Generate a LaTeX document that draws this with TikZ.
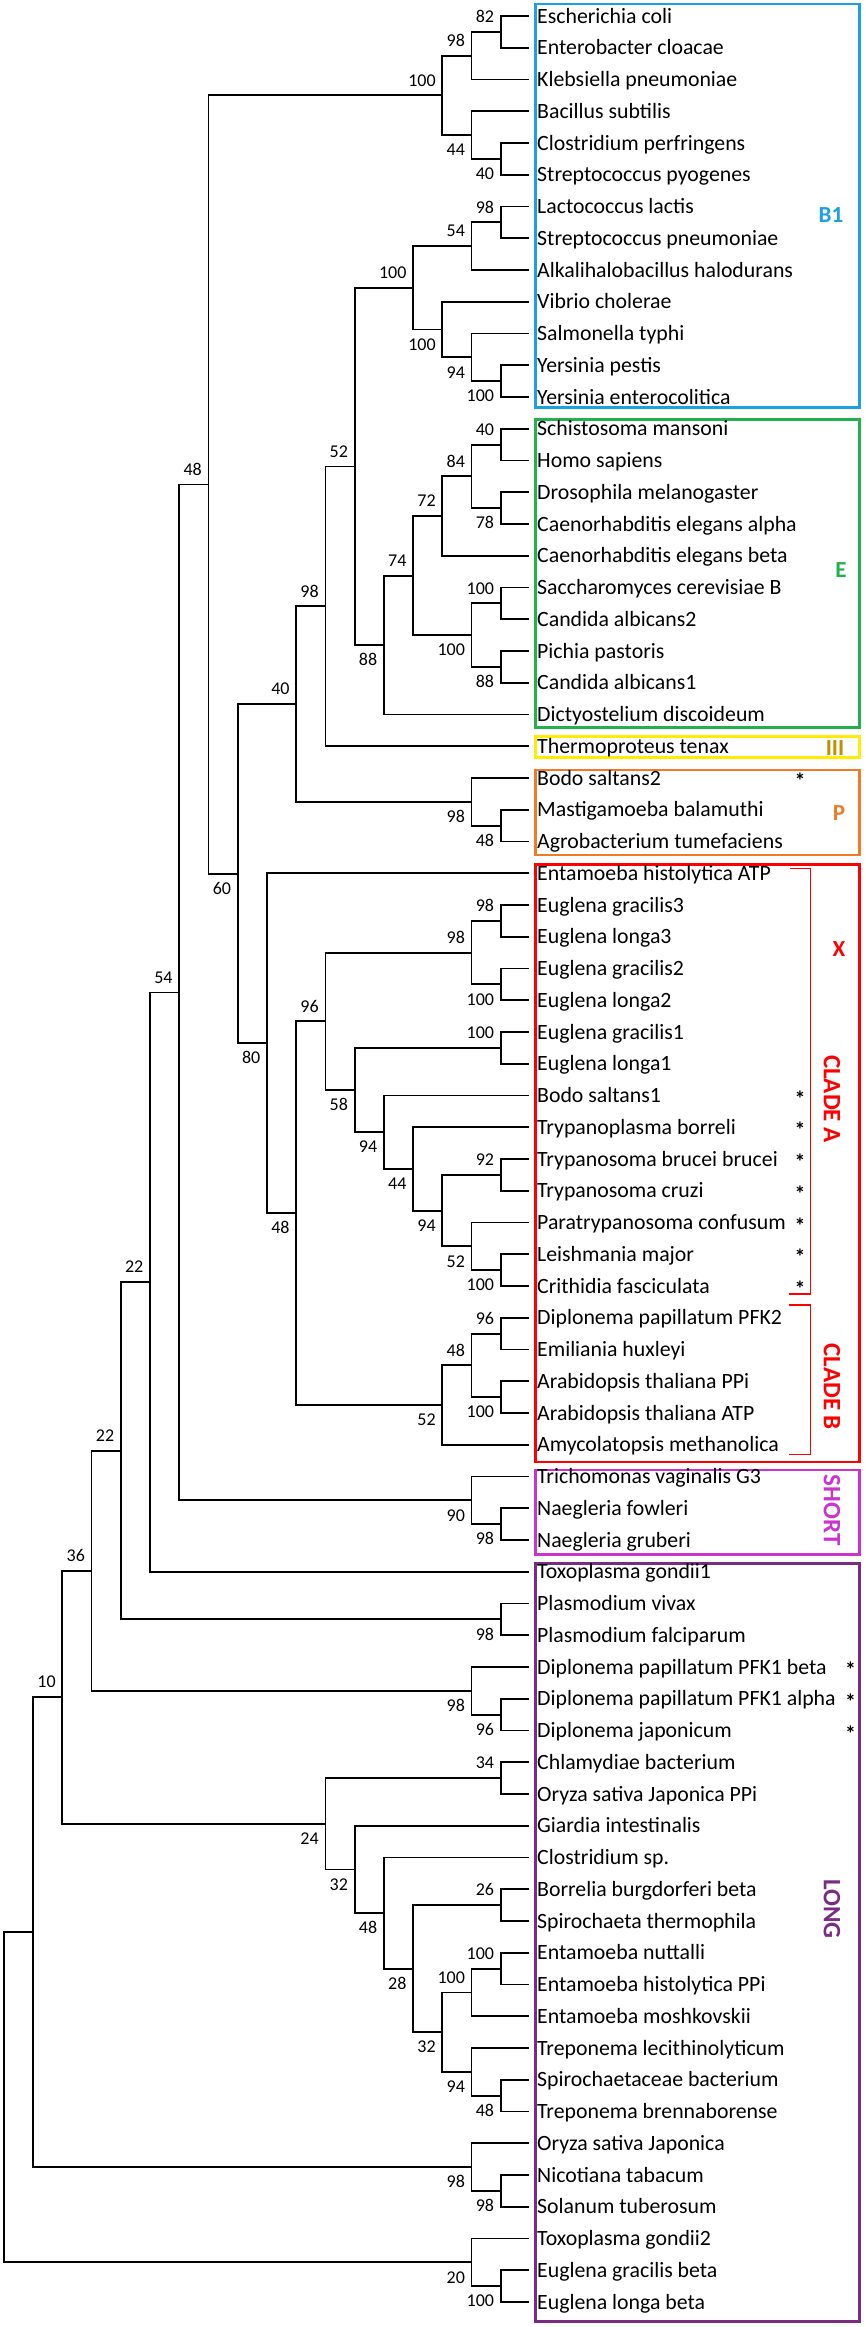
\documentclass[tikz,border=0pt]{standalone}
\usepackage{fontspec}
\setmainfont{Carlito}
\usetikzlibrary{calc}
\definecolor{cB}{RGB}{27,161,226}
\definecolor{cE}{RGB}{34,177,76}
\definecolor{cY}{RGB}{255,236,0}
\definecolor{cYt}{RGB}{191,144,0}
\definecolor{cP}{RGB}{240,122,38}
\definecolor{cR}{RGB}{255,0,0}
\definecolor{cS}{RGB}{204,51,204}
\definecolor{cL}{RGB}{122,44,132}
\newcommand{\mkleaf}[2]{%
  \coordinate (l#1) at (528.5,{16+(#1-1)*31.75});
  \node[leaflab] (t#1) at (537,{23+(#1-1)*31.75}) {#2};}
\newcommand{\mknode}[6]{%
  \coordinate (m#1) at ($(#3)!0.5!(#4)$);
  \coordinate (x#1) at ({3.9+29.23*#2},0);
  \coordinate (#1) at (m#1 -| x#1);
  \draw[branch] (#3) -- (#3 -| #1) -- (#4 -| #1) -- (#4);
  \node[sup] (s#1) at ($(#1)+(-6.5,#6)$) {#5};}
\newcommand{\mknodeN}[4]{%
  \coordinate (m#1) at ($(#3)!0.5!(#4)$);
  \coordinate (x#1) at ({3.9+29.23*#2},0);
  \coordinate (#1) at (m#1 -| x#1);
  \draw[branch] (#3) -- (#3 -| #1) -- (#4 -| #1) -- (#4);}
\newcommand{\mkast}[3]{%
  \node[ast] (a#1) at (#2,{26.5+(#1-1)*31.75}) {*};}
\begin{document}
\begin{tikzpicture}[x=1pt,y=-1pt,
  branch/.style={line width=1.8pt, black},
  leaflab/.style={anchor=base west, inner sep=0, font=\fontsize{21.8}{24}\selectfont},
  sup/.style={anchor=base east, inner sep=0, font=\fontsize{18}{20}\selectfont},
  grp/.style={inner sep=0, font=\bfseries\fontsize{23}{25}\selectfont},
  grpr/.style={inner sep=0, rotate=-90, font=\bfseries\fontsize{25}{27}\selectfont},
  gbox/.style={draw, line width=2.2pt, inner sep=0, outer sep=0, anchor=north west, minimum width=324pt},
  ast/.style={anchor=base, inner sep=0, font=\bfseries\fontsize{21.8}{24}\selectfont},
  brk/.style={line width=1.2pt, cR}]
\fill[white] (0,0) rectangle (865,2327);
\useasboundingbox (0,0) rectangle (865,2327);

% group boxes
\node[gbox, draw=cB, minimum height=403.5pt] (bxB1) at (535.5,4) {};
\node[gbox, draw=cE, minimum height=308pt] (bxE) at (535.5,419.5) {};
\node[gbox, draw=cY, minimum height=21pt] (bxIII) at (535.5,736.5) {};
\node[gbox, draw=cP, minimum height=85pt] (bxP) at (535.5,770) {};
\node[gbox, draw=cR, minimum height=597.5pt] (bxC) at (535.5,864.5) {};
\node[gbox, draw=cS, minimum height=84.5pt] (bxS) at (535.5,1470) {};
\node[gbox, draw=cL, minimum height=758pt] (bxL) at (535.5,1563.5) {};

% group labels
\node[grp, text=cB] (gB1) at (831,215) {B1};
\node[grp, text=cE] (gE) at (841,570) {E};
\node[grp, text=cYt] (gIII) at (835,748) {III};
\node[grp, text=cP] (gP) at (839,812.7) {P};
\node[grp, text=cR] (gX) at (839,949) {X};
\node[grpr, text=cR] (gCA) at (832,1099) {CLADE A};
\node[grpr, text=cR] (gCB) at (832,1386.7) {CLADE B};
\node[grpr, text=cS] (gS) at (832,1510) {SHORT};
\node[grpr, text=cL] (gL) at (832,1909) {LONG};

% brackets
\draw[brk] (790,868.5) -- (810.5,868.5) -- (810.5,1294) -- (788.5,1294);
\draw[brk] (788.5,1305) -- (810.5,1305) -- (810.5,1454.5) -- (788.5,1454.5);

% leaves
\mkleaf{1}{Escherichia coli}
\mkleaf{2}{Enterobacter cloacae}
\mkleaf{3}{Klebsiella pneumoniae}
\mkleaf{4}{Bacillus subtilis}
\mkleaf{5}{Clostridium perfringens}
\mkleaf{6}{Streptococcus pyogenes}
\mkleaf{7}{Lactococcus lactis}
\mkleaf{8}{Streptococcus pneumoniae}
\mkleaf{9}{Alkalihalobacillus halodurans}
\mkleaf{10}{Vibrio cholerae}
\mkleaf{11}{Salmonella typhi}
\mkleaf{12}{Yersinia pestis}
\mkleaf{13}{Yersinia enterocolitica}
\mkleaf{14}{Schistosoma mansoni}
\mkleaf{15}{Homo sapiens}
\mkleaf{16}{Drosophila melanogaster}
\mkleaf{17}{Caenorhabditis elegans alpha}
\mkleaf{18}{Caenorhabditis elegans beta}
\mkleaf{19}{Saccharomyces cerevisiae B}
\mkleaf{20}{Candida albicans2}
\mkleaf{21}{Pichia pastoris}
\mkleaf{22}{Candida albicans1}
\mkleaf{23}{Dictyostelium discoideum}
\mkleaf{24}{Thermoproteus tenax}
\mkleaf{25}{Bodo saltans2}
\mkleaf{26}{Mastigamoeba balamuthi}
\mkleaf{27}{Agrobacterium tumefaciens}
\mkleaf{28}{Entamoeba histolytica ATP}
\mkleaf{29}{Euglena gracilis3}
\mkleaf{30}{Euglena longa3}
\mkleaf{31}{Euglena gracilis2}
\mkleaf{32}{Euglena longa2}
\mkleaf{33}{Euglena gracilis1}
\mkleaf{34}{Euglena longa1}
\mkleaf{35}{Bodo saltans1}
\mkleaf{36}{Trypanoplasma borreli}
\mkleaf{37}{Trypanosoma brucei brucei}
\mkleaf{38}{Trypanosoma cruzi}
\mkleaf{39}{Paratrypanosoma confusum}
\mkleaf{40}{Leishmania major}
\mkleaf{41}{Crithidia fasciculata}
\mkleaf{42}{Diplonema papillatum PFK2}
\mkleaf{43}{Emiliania huxleyi}
\mkleaf{44}{Arabidopsis thaliana PPi}
\mkleaf{45}{Arabidopsis thaliana ATP}
\mkleaf{46}{Amycolatopsis methanolica}
\mkleaf{47}{Trichomonas vaginalis G3}
\mkleaf{48}{Naegleria fowleri}
\mkleaf{49}{Naegleria gruberi}
\mkleaf{50}{Toxoplasma gondii1}
\mkleaf{51}{Plasmodium vivax}
\mkleaf{52}{Plasmodium falciparum}
\mkleaf{53}{Diplonema papillatum PFK1 beta}
\mkleaf{54}{Diplonema papillatum PFK1 alpha}
\mkleaf{55}{Diplonema japonicum}
\mkleaf{56}{Chlamydiae bacterium}
\mkleaf{57}{Oryza sativa Japonica PPi}
\mkleaf{58}{Giardia intestinalis}
\mkleaf{59}{Clostridium sp.}
\mkleaf{60}{Borrelia burgdorferi beta}
\mkleaf{61}{Spirochaeta thermophila}
\mkleaf{62}{Entamoeba nuttalli}
\mkleaf{63}{Entamoeba histolytica PPi}
\mkleaf{64}{Entamoeba moshkovskii}
\mkleaf{65}{Treponema lecithinolyticum}
\mkleaf{66}{Spirochaetaceae bacterium}
\mkleaf{67}{Treponema brennaborense}
\mkleaf{68}{Oryza sativa Japonica}
\mkleaf{69}{Nicotiana tabacum}
\mkleaf{70}{Solanum tuberosum}
\mkleaf{71}{Toxoplasma gondii2}
\mkleaf{72}{Euglena gracilis beta}
\mkleaf{73}{Euglena longa beta}

% asterisks
\mkast{25}{800}{}
\mkast{35}{800}{}
\mkast{36}{800}{}
\mkast{37}{800}{}
\mkast{38}{800}{}
\mkast{39}{800}{}
\mkast{40}{800}{}
\mkast{41}{800}{}
\mkast{53}{850.5}{}
\mkast{54}{850.5}{}
\mkast{55}{850.5}{}

% internal nodes (name, level, child1, child2, support, label offset)
\mknode{na}{17}{l1}{l2}{82}{-9.3}
\mknode{nb}{16}{na}{l3}{98}{-9.3}
\mknode{nd}{17}{l5}{l6}{40}{20.7}
\mknode{nc}{16}{l4}{nd}{44}{20.7}
\mknode{ne}{15}{nb}{nc}{100}{-9.3}
\mknode{nj}{17}{l7}{l8}{98}{-9.3}
\mknode{nh}{16}{nj}{l9}{54}{-9.3}
\mknode{nl}{17}{l12}{l13}{100}{20.7}
\mknode{nk}{16}{l11}{nl}{94}{20.7}
\mknode{ni}{15}{l10}{nk}{100}{20.7}
\mknode{nf}{14}{nh}{ni}{100}{-9.3}
\mknode{nq}{17}{l14}{l15}{40}{-9.3}
\mknode{nr}{17}{l16}{l17}{78}{20.7}
\mknode{np}{16}{nq}{nr}{84}{-9.3}
\mknode{nn}{15}{np}{l18}{72}{-9.3}
\mknode{ns}{17}{l19}{l20}{100}{-9.3}
\mknode{nt}{17}{l21}{l22}{88}{20.7}
\mknode{no}{16}{ns}{nt}{100}{20.7}
\mknode{nm}{14}{nn}{no}{74}{-9.3}
\mknode{ng}{13}{nm}{l23}{88}{20.7}
\mknode{nfg}{12}{nf}{ng}{52}{-9.3}
\mknode{nth}{11}{nfg}{l24}{98}{-9.3}
\mknode{nu}{17}{l26}{l27}{48}{20.7}
\mknode{nP}{16}{l25}{nu}{98}{20.7}
\mknode{nfp}{10}{nth}{nP}{40}{-9.3}
\mknode{neg3}{17}{l29}{l30}{98}{-9.3}
\mknode{neg2}{17}{l31}{l32}{100}{20.7}
\mknode{neu}{16}{neg3}{neg2}{98}{-9.3}
\mknode{neg1}{17}{l33}{l34}{100}{-9.3}
\mknode{ntbc}{17}{l37}{l38}{92}{-9.3}
\mknode{nlc}{17}{l40}{l41}{100}{20.7}
\mknode{npl}{16}{l39}{nlc}{52}{20.7}
\mknode{ntry}{15}{ntbc}{npl}{94}{20.7}
\mknode{ntpl}{14}{l36}{ntry}{44}{20.7}
\mknode{nkin}{13}{l35}{ntpl}{94}{20.7}
\mknode{nrest}{12}{neg1}{nkin}{58}{20.7}
\mknode{nca}{11}{neu}{nrest}{96}{-9.3}
\mknode{ndp}{17}{l42}{l43}{96}{-9.3}
\mknode{nar}{17}{l44}{l45}{100}{20.7}
\mknode{nbb}{16}{ndp}{nar}{48}{-9.3}
\mknode{ncb}{15}{nbb}{l46}{52}{20.7}
\mknode{nab}{10}{nca}{ncb}{48}{20.7}
\mknode{nx}{9}{l28}{nab}{80}{20.7}
\mknode{nsix}{8}{nfp}{nx}{60}{20.7}
\mknode{nsev}{7}{ne}{nsix}{48}{-9.3}
\mknode{nng}{17}{l48}{l49}{98}{20.7}
\mknode{nsh}{16}{l47}{nng}{90}{20.7}
\mknode{nfsf}{6}{nsev}{nsh}{54}{-9.3}
\mknode{ntg}{5}{nfsf}{l50}{22}{-9.3}
\mknode{npf}{17}{l51}{l52}{98}{20.7}
\mknode{npm}{4}{ntg}{npf}{22}{-9.3}
\mknode{ndj}{17}{l54}{l55}{96}{20.7}
\mknode{ndip}{16}{l53}{ndj}{98}{20.7}
\mknode{ntsx}{3}{npm}{ndip}{36}{-9.3}
\mknode{nco}{17}{l56}{l57}{34}{-9.3}
\mknode{nbs}{17}{l60}{l61}{26}{-9.3}
\mknode{nen}{17}{l62}{l63}{100}{-9.3}
\mknode{nent}{16}{nen}{l64}{100}{-9.3}
\mknode{ntb}{17}{l66}{l67}{48}{20.7}
\mknode{ntrep}{16}{l65}{ntb}{94}{20.7}
\mknode{nspi}{15}{nent}{ntrep}{32}{20.7}
\mknode{ntwe}{14}{nbs}{nspi}{28}{20.7}
\mknode{nclo}{13}{l59}{ntwe}{48}{20.7}
\mknode{ngia}{12}{l58}{nclo}{32}{20.7}
\mknode{nlong}{11}{nco}{ngia}{24}{20.7}
\mknode{nten}{2}{ntsx}{nlong}{10}{-9.3}
\mknode{nns}{17}{l69}{l70}{98}{20.7}
\mknode{nory}{16}{l68}{nns}{98}{20.7}
\mknodeN{none}{1}{nten}{nory}
\mknode{neb}{17}{l72}{l73}{100}{20.7}
\mknode{ntox}{16}{l71}{neb}{20}{20.7}
\mknodeN{nroot}{0}{none}{ntox}
\end{tikzpicture}
\end{document}
